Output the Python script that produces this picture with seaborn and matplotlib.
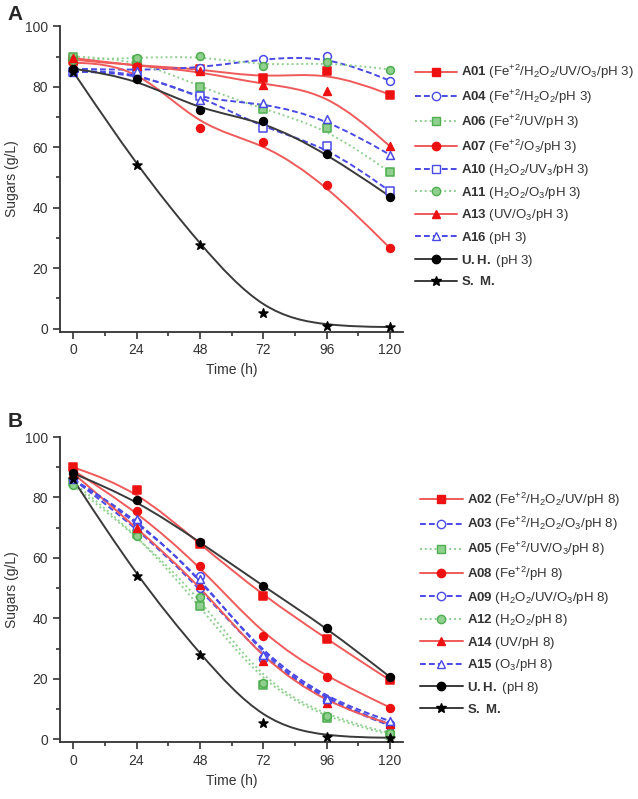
import numpy as np
import seaborn as sns
import matplotlib.pyplot as plt
from matplotlib.lines import Line2D
from matplotlib.path import Path
from matplotlib.patches import PathPatch
from matplotlib.ticker import MultipleLocator

sns.set_theme(style='ticks')
plt.rcParams['font.family'] = ['Liberation Sans', 'DejaVu Sans']
plt.rcParams['mathtext.fontset'] = 'custom'
plt.rcParams['mathtext.rm'] = 'Liberation Sans'
plt.rcParams['mathtext.it'] = 'Liberation Sans:italic'
plt.rcParams['mathtext.bf'] = 'Liberation Sans:bold'

hours = [0, 24, 48, 72, 96, 120]

# Panel A - pH 3 (sugars, g/L)
a01 = [89, 87, 86, 82.8, 85.1, 77.4]
a04 = [86, 85.5, 86.2, 89.3, 90.3, 82]
a06 = [90, 89, 80, 72.6, 66.3, 51.7]
a07 = [88, 87, 66.3, 61.7, 47.4, 26.6]
a10 = [85, 84.5, 77, 66.3, 60.3, 45.4]
a11 = [89, 89.5, 90.3, 86.8, 88.2, 85.7]
a13 = [89.5, 87, 85.1, 80.7, 78.5, 60.3]
a16 = [85, 85.3, 75.5, 74.8, 69.3, 57.5]
uh_a = [86, 82.7, 72.2, 68.8, 57.9, 43.7]
sm_a = [85, 54, 27.7, 5.1, 0.8, 0.5]

labels_a = [r'$\mathbf{A01}$ (Fe$^{+2}$/H$_2$O$_2$/UV/O$_3$/pH 3)',
            r'$\mathbf{A04}$ (Fe$^{+2}$/H$_2$O$_2$/pH 3)',
            r'$\mathbf{A06}$ (Fe$^{+2}$/UV/pH 3)',
            r'$\mathbf{A07}$ (Fe$^{+2}$/O$_3$/pH 3)',
            r'$\mathbf{A10}$ (H$_2$O$_2$/UV$_3$/pH 3)',
            r'$\mathbf{A11}$ (H$_2$O$_2$/O$_3$/pH 3)',
            r'$\mathbf{A13}$ (UV/O$_3$/pH 3)',
            r'$\mathbf{A16}$ (pH 3)',
            r'$\mathbf{U{.}H{.}}$ (pH 3)',
            r'$\mathbf{S{.}\ M{.}}$']

# Panel B - pH 8
a02 = [90, 82.5, 64.5, 47.5, 33.2, 19.5]
a03 = [86, 72, 54, 27, 13, 5]
a05 = [85, 68, 44, 18, 7, 1.5]
a08 = [89, 75.4, 57.4, 34.1, 20.6, 10.5]
a09 = [86, 70, 50, 26.5, 12.5, 4.5]
a12 = [84, 67.3, 47, 18.7, 7.7, 2]
a14 = [88, 70, 51, 26, 12, 5]
a15 = [86, 73, 53, 28, 13.4, 6]
uh_b = [88, 79.1, 65.3, 50.6, 36.9, 20.6]
sm_b = [86, 54, 28, 5.4, 0.8, 0.5]

labels_b = [r'$\mathbf{A02}$ (Fe$^{+2}$/H$_2$O$_2$/UV/pH 8)',
            r'$\mathbf{A03}$ (Fe$^{+2}$/H$_2$O$_2$/O$_3$/pH 8)',
            r'$\mathbf{A05}$ (Fe$^{+2}$/UV/O$_3$/pH 8)',
            r'$\mathbf{A08}$ (Fe$^{+2}$/pH 8)',
            r'$\mathbf{A09}$ (H$_2$O$_2$/UV/O$_3$/pH 8)',
            r'$\mathbf{A12}$ (H$_2$O$_2$/pH 8)',
            r'$\mathbf{A14}$ (UV/pH 8)',
            r'$\mathbf{A15}$ (O$_3$/pH 8)',
            r'$\mathbf{U{.}H{.}}$ (pH 8)',
            r'$\mathbf{S{.}\ M{.}}$']

RED, RED_L = '#ee1111', '#f05a5a'
BLUE, BLUE_L = '#4a4ae6', '#4a4ae6'
GREEN, GREEN_F, GREEN_L = '#4fae4f', '#8fd08f', '#8fd08f'
BLACK, GREY = '#000000', '#3a3a3a'

# marker, face, edge, line colour, line style
styles = [('s', RED, RED, RED_L, '-'),
          ('o', 'white', BLUE, BLUE_L, (0, (3, 1.6))),
          ('s', GREEN_F, GREEN, GREEN_L, (0, (1, 1.5))),
          ('o', RED, RED, RED_L, '-'),
          (None, 'white', BLUE, BLUE_L, (0, (3, 1.6))),
          ('o', GREEN_F, GREEN, GREEN_L, (0, (1, 1.5))),
          ('^', RED, RED, RED_L, '-'),
          ('^', 'white', BLUE, BLUE_L, (0, (3, 1.6))),
          ('o', BLACK, BLACK, GREY, '-'),
          ('*', BLACK, BLACK, GREY, '-')]


def bspline_path(x, y):
    # Origin-style B-spline connection: data points act as control points
    pts = np.column_stack([x, y]).astype(float)
    p = np.vstack([pts[:1], pts[:1], pts, pts[-1:], pts[-1:]])
    verts = [(p[0] + 4 * p[1] + p[2]) / 6]
    codes = [Path.MOVETO]
    for i in range(len(p) - 3):
        verts += [(2 * p[i + 1] + p[i + 2]) / 3,
                  (p[i + 1] + 2 * p[i + 2]) / 3,
                  (p[i + 1] + 4 * p[i + 2] + p[i + 3]) / 6]
        codes += [Path.CURVE4] * 3
    return Path(verts, codes)


def draw_panel(ax, series, labels, second_marker):
    handles = []
    for i, (vals, lab) in enumerate(zip(series, labels)):
        m, fc, ec, lc, ls = styles[i]
        if m is None:
            m = second_marker
        size = 45 if m == '*' else 32
        ax.add_patch(PathPatch(bspline_path(hours, vals), fill=False, edgecolor=lc,
                               linestyle=ls, linewidth=1.4, zorder=2))
        sns.scatterplot(x=hours, y=vals, ax=ax, marker=m, s=size, color=fc,
                        edgecolor=ec, linewidth=1.1, zorder=3, legend=False)
        handles.append(Line2D([], [], color=lc, ls=ls, lw=1.4, marker=m,
                              markerfacecolor=fc, markeredgecolor=ec,
                              markersize=7 if m == '*' else 6, label=lab))
    ax.set_xlim(-5, 125)
    ax.set_ylim(-1, 100)
    ax.xaxis.set_major_locator(MultipleLocator(24))
    ax.xaxis.set_minor_locator(MultipleLocator(12))
    ax.yaxis.set_major_locator(MultipleLocator(20))
    ax.yaxis.set_minor_locator(MultipleLocator(10))
    ax.tick_params(which='major', length=5, width=1.2, colors='#333333', labelsize=10)
    ax.tick_params(which='minor', length=3, width=1.2, colors='#333333')
    for s in ['left', 'bottom']:
        ax.spines[s].set_color('#333333')
        ax.spines[s].set_linewidth(1.3)
    sns.despine(ax=ax)
    ax.set_xlabel('Time (h)', fontsize=10, color='#333333')
    ax.set_ylabel('Sugars (g/L)', fontsize=10, color='#333333')
    return handles


fig = plt.figure(figsize=(6.38, 7.99), dpi=100)
ax_a = fig.add_axes([0.094, 0.585, 0.538, 0.382])
ax_b = fig.add_axes([0.094, 0.071, 0.538, 0.382])

h_a = draw_panel(ax_a, [a01, a04, a06, a07, a10, a11, a13, a16, uh_a, sm_a], labels_a, 's')
h_b = draw_panel(ax_b, [a02, a03, a05, a08, a09, a12, a14, a15, uh_b, sm_b], labels_b, 'o')

leg_kw = dict(loc='upper left', frameon=False, fontsize=9.5, handlelength=3.2,
              handletextpad=0.3, labelspacing=0.5, borderpad=0, borderaxespad=0,
              labelcolor='#333333')
ax_a.legend(handles=h_a, bbox_to_anchor=(1.035, 0.88), **leg_kw)
ax_b.legend(handles=h_b, bbox_to_anchor=(1.05, 0.825), **leg_kw)

fig.text(0.012, 0.982, 'A', fontsize=15, fontweight='bold', va='center')
fig.text(0.012, 0.472, 'B', fontsize=15, fontweight='bold', va='center')

fig.savefig('out.png', dpi=100)
